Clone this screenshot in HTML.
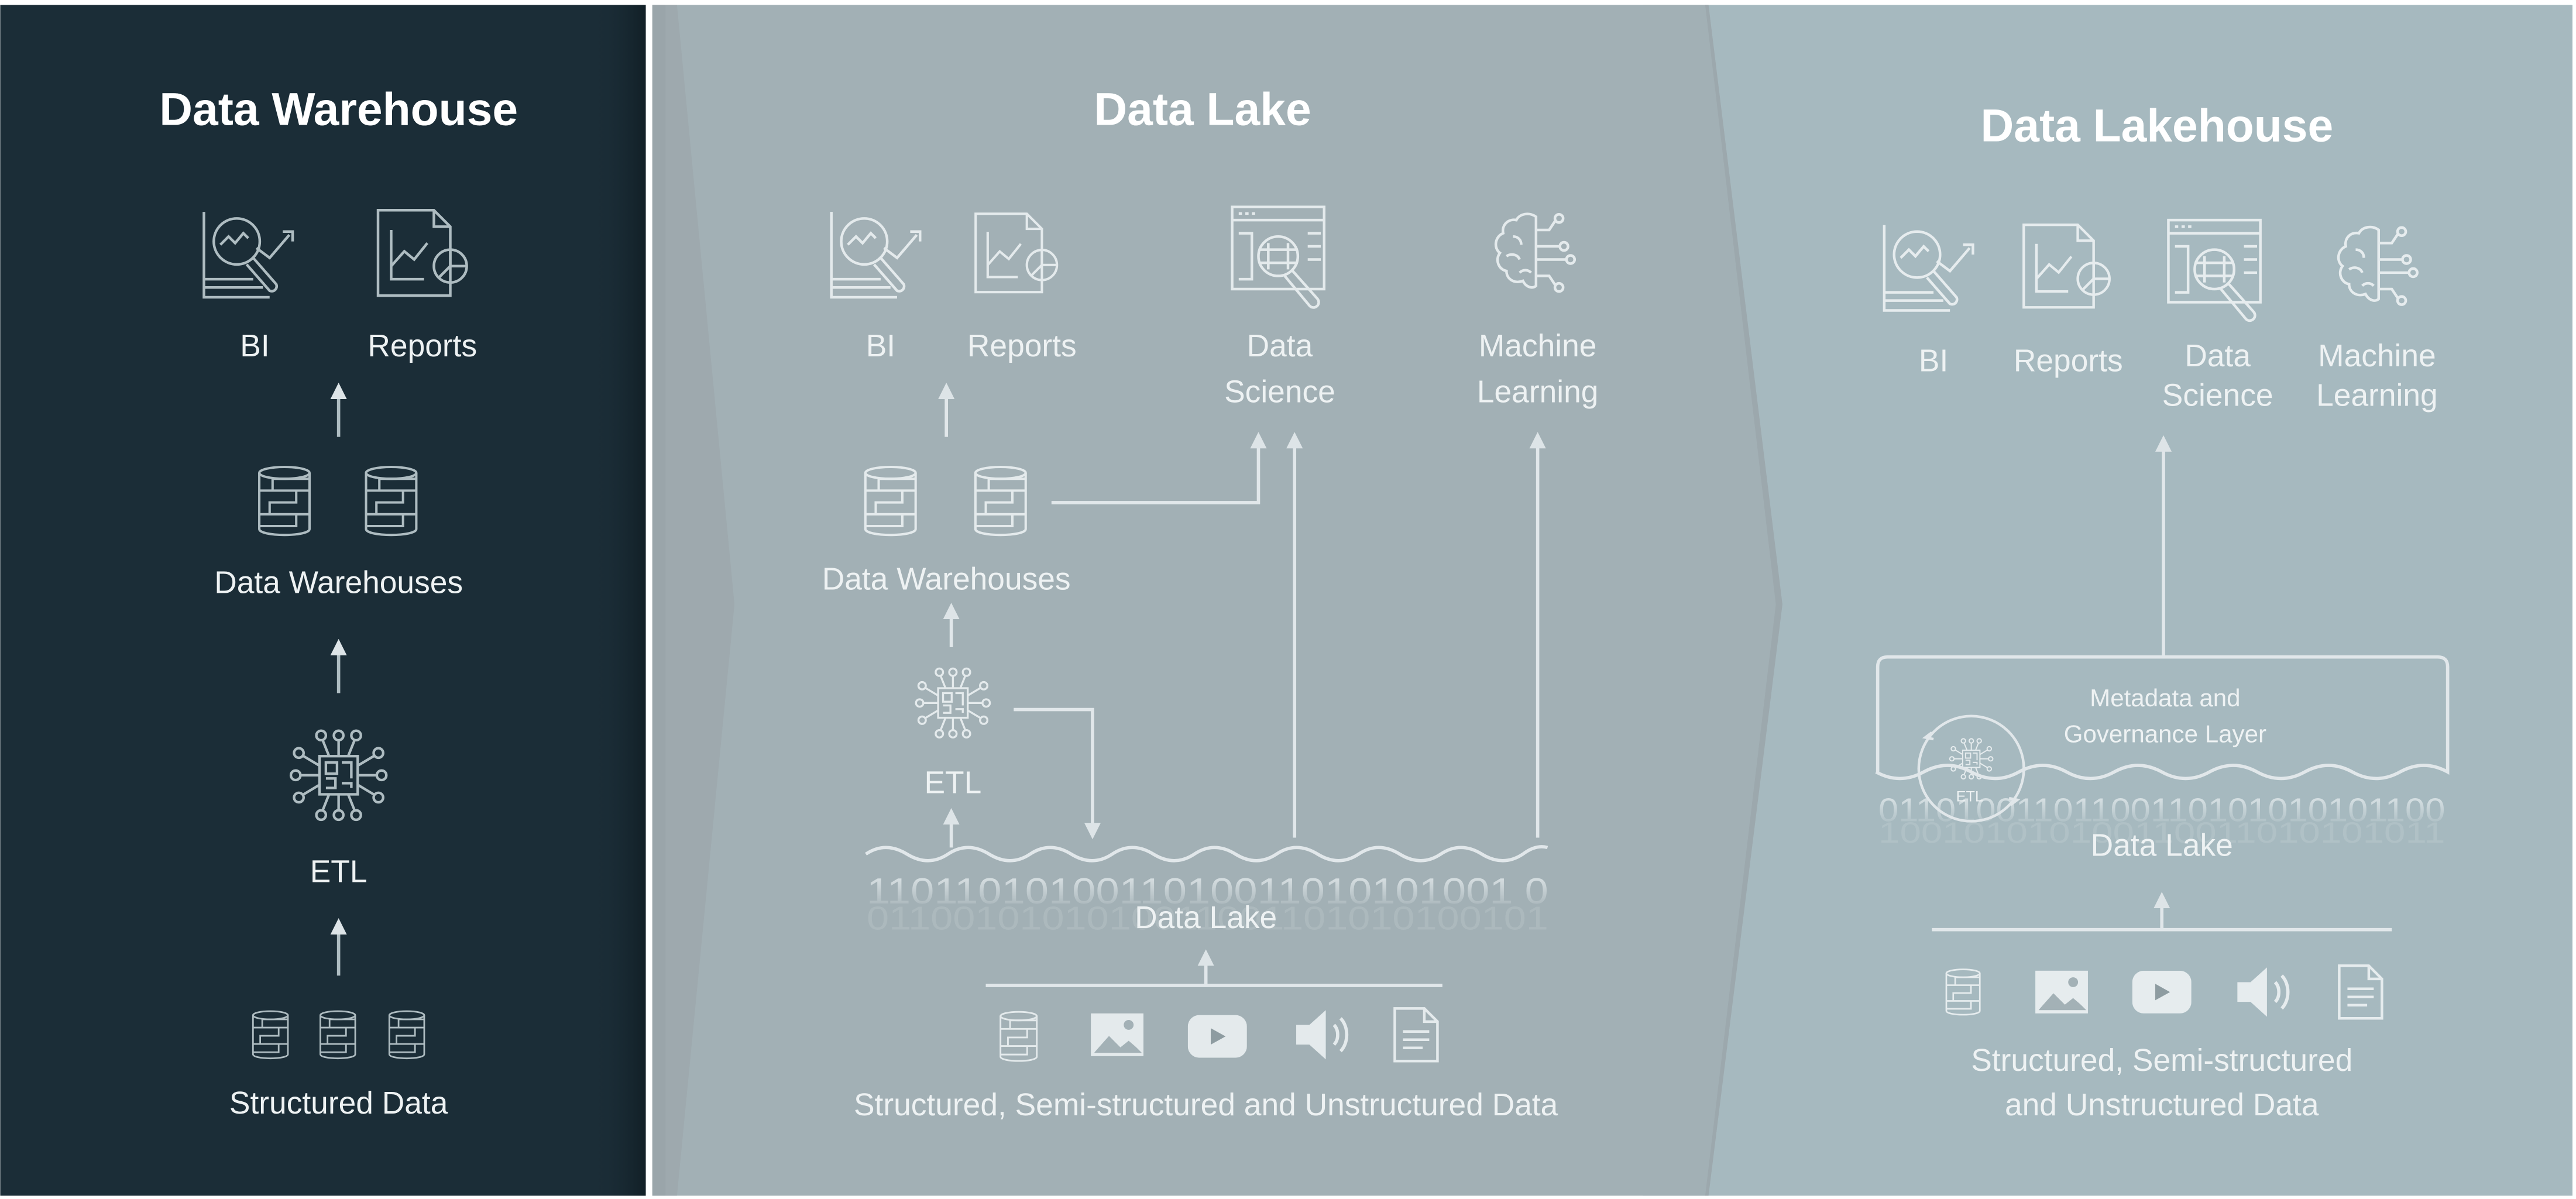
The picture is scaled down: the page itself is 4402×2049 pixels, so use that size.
<!DOCTYPE html>
<html><head><meta charset="utf-8">
<style>
html,body{margin:0;padding:0;background:#fff;}
svg{display:block;}
text{font-family:"Liberation Sans",sans-serif;}
</style></head>
<body>
<svg width="4402" height="2049" viewBox="0 0 1568 730" xmlns="http://www.w3.org/2000/svg">
<defs>
<linearGradient id="shL" x1="0" x2="1"><stop offset="0" stop-color="#1b2d37" stop-opacity="0"/><stop offset="1" stop-color="#0f1c22" stop-opacity="0.8"/></linearGradient>
<linearGradient id="fade" x1="0" y1="0" x2="0" y2="1"><stop offset="0" stop-color="#e8eef0" stop-opacity="0.9"/><stop offset="1" stop-color="#e8eef0" stop-opacity="0"/></linearGradient>
<symbol id="db" viewBox="0 0 40 50"><g fill="none" stroke="currentColor" stroke-width="1.6"><ellipse cx="20" cy="6" rx="17" ry="4"/><path d="M3 6v38c0 2.5 8 4 17 4s17-1.5 17-4V6"/><path d="M37 10H12v8h25M3 18h25v8H10v8h27M3 34h25v8H3"/></g></symbol>
<symbol id="bi" viewBox="0 0 64 56"><g fill="none" stroke="currentColor" stroke-width="1.6"><path d="M2 2v52h40M2 48h36M2 43h30"/><circle cx="22" cy="20" r="14"/><path d="M12 22l5-5 4 4 5-6 3 3M34 24l8 6 12-14M50 14h6v6"/><path d="M32 30l14 16a3 3 0 0 1-4 4L28 34"/></g></symbol>
<symbol id="rep" viewBox="0 0 60 56"><g fill="none" stroke="currentColor" stroke-width="1.6"><path d="M2 2h34l10 10v42H2z"/><path d="M36 2v10h10"/><path d="M10 14v30h20M10 36l8-9 6 5 8-10"/><circle cx="46" cy="36" r="10"/><path d="M46 26v10h10M46 36l-7 7"/></g></symbol>
<symbol id="ds" viewBox="0 0 68 66"><g fill="none" stroke="currentColor" stroke-width="1.6"><rect x="2" y="2" width="56" height="50"/><path d="M2 10h56M6 6h2M10 6h2M14 6h2"/><circle cx="30" cy="32" r="12"/><path d="M24 24v16M36 24v16M18 28h24M18 36h24M6 18h8v28h-8M48 18h8M48 26h8M48 34h8"/><path d="M38 40l16 18a3 3 0 0 1-5 4L34 44"/></g></symbol>
<symbol id="brain" viewBox="0 0 56 52"><g fill="none" stroke="currentColor" stroke-width="1.6"><path d="M28 4c-4-3-10-2-12 2-5-1-9 3-8 8-5 2-6 9-2 12-3 4-1 10 4 11 0 5 5 8 10 6 2 4 6 5 8 3z"/><path d="M14 16c3 0 5 2 5 5M10 28c3-2 7-1 8 2M18 38c2-2 5-2 7 0"/><path d="M28 12h8l4-6M28 22h14M28 30h18M28 40h8l4 6"/><circle cx="42" cy="5" r="2.5"/><circle cx="45" cy="22" r="2.5"/><circle cx="49" cy="30" r="2.5"/><circle cx="42" cy="47" r="2.5"/></g></symbol>
<symbol id="etl" viewBox="0 0 64 64"><g fill="none" stroke="currentColor" stroke-width="1.6"><rect x="20" y="20" width="24" height="24"/><path d="M24 24h7v7h-7zM34 24h6v10M24 34h6v6h-6M34 37h6v3"/><path d="M32 20V10M26 20l-4-10M38 20l4-10M32 44v10M26 44l-4 10M38 44l4 10M20 32H8M20 26l-10-6M20 38l-10 6M44 32h12M44 26l10-6M44 38l10 6"/><circle cx="32" cy="7" r="3"/><circle cx="21" cy="7" r="3"/><circle cx="43" cy="7" r="3"/><circle cx="32" cy="57" r="3"/><circle cx="21" cy="57" r="3"/><circle cx="43" cy="57" r="3"/><circle cx="5" cy="32" r="3"/><circle cx="7" cy="18" r="3"/><circle cx="7" cy="46" r="3"/><circle cx="59" cy="32" r="3"/><circle cx="57" cy="18" r="3"/><circle cx="57" cy="46" r="3"/></g></symbol>
<symbol id="img" viewBox="0 0 34 28"><rect x="1" y="1" width="32" height="26" fill="currentColor"/><path d="M3 25l9-11 7 7 5-4 8 8z" fill="#a3b1b6"/><circle cx="24" cy="8" r="3" fill="#a3b1b6"/><path d="M4 23l8-9 7 7 5-4 7 6" fill="none" stroke="currentColor"/></symbol>
<symbol id="yt" viewBox="0 0 36 26"><rect x="0" y="0" width="36" height="26" rx="7" fill="currentColor"/><path d="M14 8v10l9-5z" fill="#8e9ca1"/></symbol>
<symbol id="spk" viewBox="0 0 36 32"><path d="M2 10h8l10-9v30l-10-9H2z" fill="currentColor"/><path d="M25 10c3 3 3 9 0 12M29 6c5 5 5 15 0 20" fill="none" stroke="currentColor" stroke-width="2"/></symbol>
<symbol id="doc" viewBox="0 0 28 34"><g fill="none" stroke="currentColor" stroke-width="1.6"><path d="M1 1h18l8 8v24H1z"/><path d="M19 1v8h8M6 15h16M6 20h16M6 25h12"/></g></symbol>
<marker id="ah" viewBox="0 0 10 10" refX="5" refY="5" markerWidth="5" markerHeight="5" orient="auto-start-reverse"><path d="M0 0L10 5L0 10z" fill="#dde4e7"/></marker>
</defs>

<rect width="1568" height="730" fill="#fff"/>
<rect x="1000" y="3" width="566" height="725" fill="#a6b9bf"/>
<polygon points="397,3 1040,3 1085,368 1040,728 397,728" fill="#a2b0b5"/>
<polygon points="1038,3 1040,3 1085,368 1040,728 1038,728 1081,368" fill="#9ca8ad"/>
<polygon points="397,3 405,3 440,368 405,728 397,728" fill="#9aa5aa"/>
<polygon points="405,3 412,3 447,368 412,728 405,728" fill="#9ea9ae"/>
<rect x="0" y="3" width="393" height="725" fill="#1b2d37"/>
<rect x="360" y="3" width="33" height="725" fill="url(#shL)"/>

<g fill="#eef2f3" text-anchor="middle">
<text x="206" y="76" font-size="28" font-weight="bold" fill="#fff">Data Warehouse</text>
<g color="#aebcc1">
<use href="#bi" x="122" y="127" width="64" height="56"/>
<use href="#rep" x="228" y="126" width="60" height="56"/>
<use href="#db" x="155" y="280" width="36" height="50"/>
<use href="#db" x="220" y="280" width="36" height="50"/>
<use href="#etl" x="175" y="441" width="62" height="62"/>
<use href="#db" x="152" y="614" width="25" height="32"/>
<use href="#db" x="193" y="614" width="25" height="32"/>
<use href="#db" x="235" y="614" width="25" height="32"/>
</g>
<g font-size="19">
<text x="155" y="217">BI</text><text x="257" y="217">Reports</text>
<text x="206" y="361">Data Warehouses</text>
<text x="206" y="537">ETL</text>
<text x="206" y="678">Structured Data</text>
</g>
<g stroke="#aebcc1" stroke-width="2" marker-end="url(#ah)">
<line x1="206" y1="266" x2="206" y2="238"/>
<line x1="206" y1="422" x2="206" y2="394"/>
<line x1="206" y1="594" x2="206" y2="564"/>
</g>

<text x="732" y="76" font-size="28" font-weight="bold" fill="#fff">Data Lake</text>
<g color="#e4eaec">
<use href="#bi" x="504" y="127" width="64" height="56"/>
<use href="#rep" x="592" y="126" width="55" height="56"/>
<use href="#ds" x="748" y="124" width="68" height="66"/>
<use href="#brain" x="907" y="128" width="56" height="52"/>
<use href="#db" x="524" y="280" width="36" height="50"/>
<use href="#db" x="591" y="280" width="36" height="50"/>
<use href="#etl" x="556" y="404" width="48" height="48"/>
<use href="#db" x="607" y="613" width="26" height="36"/>
<use href="#img" x="663" y="616" width="34" height="28"/>
<use href="#yt" x="723" y="618" width="36" height="26"/>
<use href="#spk" x="787" y="614" width="36" height="32"/>
<use href="#doc" x="848" y="613" width="28" height="34"/>
</g>
<g font-size="19">
<text x="536" y="217">BI</text><text x="622" y="217">Reports</text>
<text x="779" y="217">Data</text><text x="779" y="245">Science</text>
<text x="936" y="217">Machine</text><text x="936" y="245">Learning</text>
<text x="576" y="359">Data Warehouses</text>
<text x="580" y="483">ETL</text>
<text x="734" y="565">Data Lake</text>
<text x="734" y="679">Structured, Semi-structured and Unstructured Data</text>
</g>
<g stroke="#e1e7ea" stroke-width="2" fill="none">
<line x1="576" y1="266" x2="576" y2="238" marker-end="url(#ah)"/>
<polyline points="640,306 766,306 766,268" marker-end="url(#ah)"/>
<line x1="788" y1="510" x2="788" y2="268" marker-end="url(#ah)"/>
<line x1="936" y1="510" x2="936" y2="268" marker-end="url(#ah)"/>
<line x1="579" y1="394" x2="579" y2="372" marker-end="url(#ah)"/>
<polyline points="617,432 665,432 665,506" marker-end="url(#ah)"/>
<line x1="579" y1="516" x2="579" y2="497" marker-end="url(#ah)"/>
<line x1="734" y1="600" x2="734" y2="583" marker-end="url(#ah)"/>
<line x1="600" y1="600" x2="878" y2="600"/>
<path d="M527 520 q12 -8 25 0 t25 0 t25 0 t25 0 t25 0 t25 0 t25 0 t25 0 t25 0 t25 0 t25 0 t25 0 t25 0 t25 0 t25 0 t25 0 q8 -6 15 -4"/>
</g>
<text x="735" y="550" font-size="22" fill="url(#fade)" textLength="415" lengthAdjust="spacingAndGlyphs">1101101010011010011010101001 0</text>
<text x="735" y="566" font-size="20" fill="#e8eef0" opacity="0.15" textLength="415" lengthAdjust="spacingAndGlyphs">0110010101010011001101010100101</text>

<text x="1313" y="86" font-size="28" font-weight="bold" fill="#fff">Data Lakehouse</text>
<g color="#e6ecee">
<use href="#bi" x="1145" y="135" width="64" height="56"/>
<use href="#rep" x="1230" y="134" width="58" height="56"/>
<use href="#ds" x="1318" y="132" width="68" height="66"/>
<use href="#brain" x="1420" y="136" width="56" height="52"/>
<use href="#etl" x="1186" y="448" width="28" height="28"/>
<use href="#db" x="1183" y="587" width="24" height="34"/>
<use href="#img" x="1238" y="590" width="34" height="28"/>
<use href="#yt" x="1298" y="591" width="36" height="26"/>
<use href="#spk" x="1360" y="588" width="36" height="32"/>
<use href="#doc" x="1423" y="587" width="28" height="34"/>
</g>
<text x="1316" y="500" font-size="20" fill="url(#fade)" textLength="345" lengthAdjust="spacingAndGlyphs">01101001101100110101010101100</text>
<text x="1316" y="513" font-size="18" fill="#e8eef0" opacity="0.15" textLength="345" lengthAdjust="spacingAndGlyphs">100101010100110011010101011</text>
<g font-size="19">
<text x="1177" y="226">BI</text><text x="1259" y="226">Reports</text>
<text x="1350" y="223">Data</text><text x="1350" y="247">Science</text>
<text x="1447" y="223">Machine</text><text x="1447" y="247">Learning</text>
<text x="1316" y="521">Data Lake</text>
<text x="1316" y="652">Structured, Semi-structured</text>
<text x="1316" y="679">and Unstructured Data</text>
</g>
<g font-size="15">
<text x="1318" y="430">Metadata and</text>
<text x="1318" y="452">Governance Layer</text>
</g>
<text x="1199" y="488" font-size="9">ETL</text>
<g stroke="#e1e7ea" stroke-width="2" fill="none">
<line x1="1317" y1="400" x2="1317" y2="270" marker-end="url(#ah)"/>
<path d="M1143 470 V406 q0 -6 6 -6 H1484 q6 0 6 6 V470 q-14.5 -8 -29 0 t-29 0 t-29 0 t-29 0 t-29 0 t-29 0 t-29 0 t-29 0 t-29 0 t-29 0 t-29 0 t-29 0"/>
<circle cx="1200" cy="468" r="32" stroke-width="1.6"/>
<path d="M1176 446 l-4 3 5 1 M1224 490 l4 -3 -5 -1" stroke-width="1.6"/>
<line x1="1316" y1="566" x2="1316" y2="548" marker-end="url(#ah)"/>
<line x1="1176" y1="566" x2="1456" y2="566"/>
</g>
</g>
</svg>
</body></html>
